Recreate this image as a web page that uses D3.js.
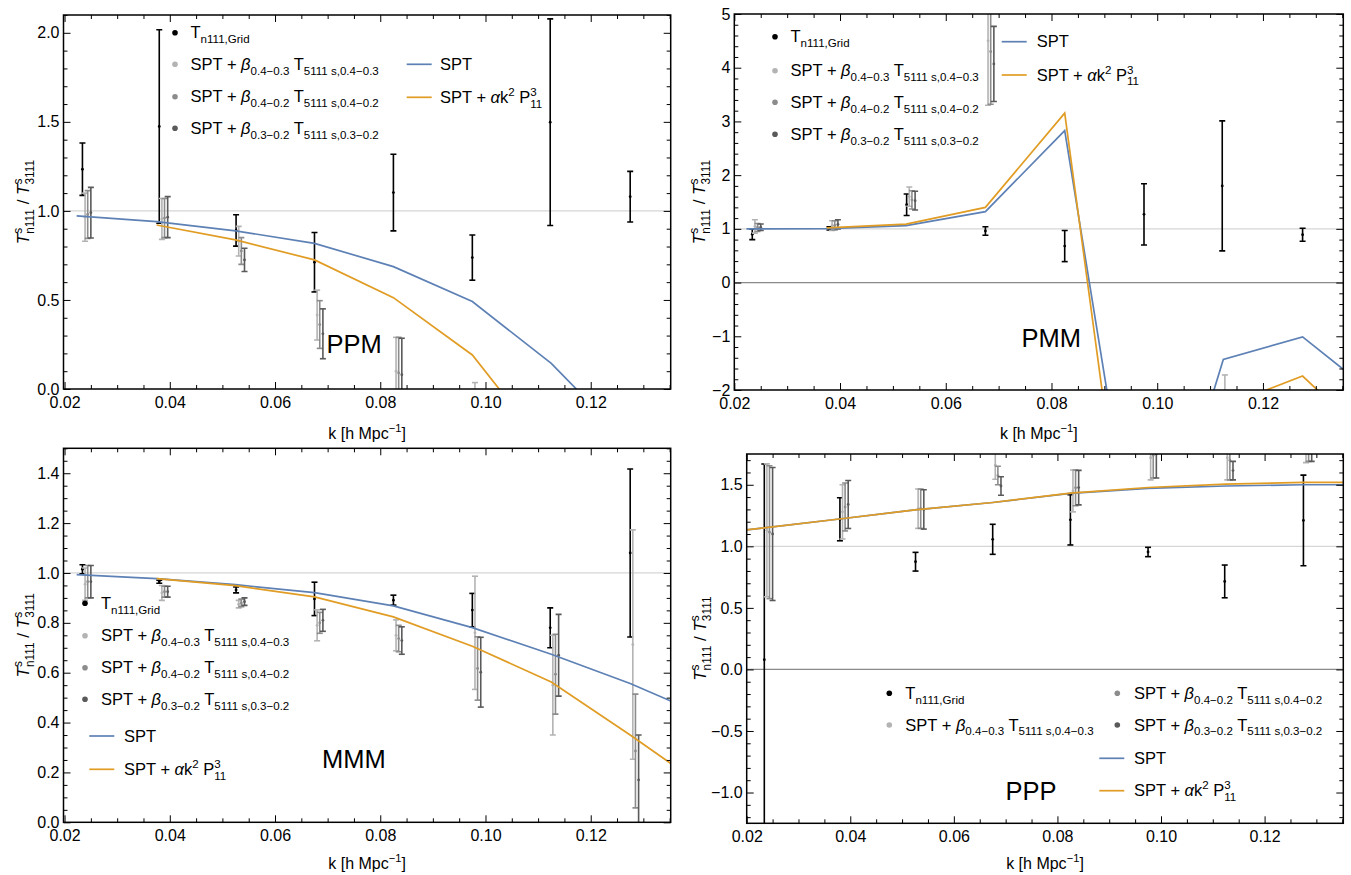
<!DOCTYPE html>
<html>
<head>
<meta charset="utf-8">
<script src="https://cdn.jsdelivr.net/npm/d3@7"></script>
<style>
body { margin: 0; background: #fff; }
svg { font-family: "Liberation Sans", Arial, sans-serif; }
text { white-space: pre; }
</style>
</head>
<body>
<svg id="chart" width="1351" height="875"></svg>
<script>
// k bins of the measured points, and the k where the theory curves have vertices
const kBins = [0.0234, 0.0380, 0.0526, 0.0675, 0.0825, 0.0975, 0.1123, 0.1275]
const kSpt = [0.0223, 0.0375, 0.0525, 0.0675, 0.0825, 0.0975, 0.1125, 0.1275, 0.1425]
const kAlpha = [0.0375, 0.0525, 0.0675, 0.0825, 0.0975, 0.1125, 0.1275, 0.1425]
const kPppLines = [0.0200, 0.0375, 0.0525, 0.0675, 0.0825, 0.0975, 0.1125, 0.1275, 0.1425]
// small k shifts of the three beta series so they do not sit on top of each other
const shiftB43 = 0.0005, shiftB42 = 0.0010, shiftB32 = 0.0016

// each point is [value, error]
const ppmGrid = [[1.234,0.147],[1.474,0.543],[0.890,0.088],[0.712,0.167],[1.103,0.215],[0.738,0.127],[1.498,0.580],[1.080,0.142]]
const ppmB43 = [[0.965,0.135],[0.955,0.115],[0.830,0.083],[0.415,0.140],[0.100,0.190],[-0.200,0.236],[-0.500,0.300],[-0.800,0.300]]
const ppmB42 = [[0.980,0.134],[0.960,0.110],[0.775,0.075],[0.362,0.134],[0.090,0.200],[-0.300,0.200],[-0.600,0.300],[-0.900,0.300]]
const ppmB32 = [[0.990,0.142],[0.965,0.115],[0.725,0.065],[0.310,0.140],[0.080,0.205],[-0.350,0.200],[-0.700,0.300],[-1.000,0.300]]
const ppmSpt = [0.972, 0.940, 0.888, 0.818, 0.687, 0.491, 0.144, -0.31, -0.80]
const ppmAlpha = [0.921, 0.837, 0.725, 0.513, 0.191, -0.37, -1.00, -1.60]

const pmmGrid = [[0.90,0.10],[1.01,0.03],[1.45,0.20],[0.96,0.08],[0.68,0.29],[1.27,0.57],[1.80,1.21],[0.89,0.12]]
const pmmB43 = [[1.045,0.125],[1.06,0.09],[1.60,0.18],[4.50,1.20],[6.5,1.0],[8.0,1.0],[-2.50,0.78],[-4.0,1.0]]
const pmmB42 = [[1.025,0.075],[1.065,0.085],[1.54,0.17],[4.30,0.98],[6.5,1.0],[8.0,1.0],[-3.00,0.50],[-4.0,1.0]]
const pmmB32 = [[1.030,0.060],[1.085,0.085],[1.525,0.175],[4.07,0.70],[6.5,1.0],[8.0,1.0],[-3.00,0.50],[-4.0,1.0]]
const pmmSpt = [1.00, 1.006, 1.06, 1.32, 2.83, -6.27, -1.43, -1.01, -2.19]
const pmmAlpha = [1.02, 1.087, 1.40, 3.155, -7.80, -2.31, -1.74, -3.13]

const mmmGrid = [[1.015,0.018],[0.965,0.006],[0.932,0.012],[0.896,0.067],[0.891,0.020],[0.851,0.067],[0.780,0.080],[1.080,0.337]]
const mmmB43 = [[0.955,0.065],[0.920,0.030],[0.875,0.015],[0.790,0.062],[0.750,0.062],[0.760,0.227],[0.550,0.200],[0.713,0.460]]
const mmmB42 = [[0.965,0.065],[0.925,0.022],[0.880,0.015],[0.800,0.042],[0.737,0.053],[0.617,0.127],[0.594,0.160],[0.286,0.228]]
const mmmB32 = [[0.965,0.065],[0.925,0.022],[0.885,0.015],[0.810,0.044],[0.729,0.055],[0.602,0.140],[0.670,0.164],[0.170,0.180]]
const mmmSpt = [0.993, 0.977, 0.953, 0.921, 0.868, 0.781, 0.674, 0.557, 0.42]
const mmmAlpha = [0.977, 0.949, 0.904, 0.824, 0.706, 0.563, 0.350, 0.128]

const pppGrid = [[0.079,1.590],[1.220,0.175],[0.875,0.076],[1.057,0.122],[1.215,0.204],[0.954,0.038],[0.715,0.133],[1.210,0.368]]
const pppB43 = [[1.130,0.540],[1.280,0.220],[1.306,0.160],[1.660,0.115],[1.450,0.170],[1.720,0.180],[1.720,0.180],[1.850,0.170]]
const pppB42 = [[1.115,0.540],[1.320,0.195],[1.306,0.160],[1.575,0.075],[1.475,0.145],[1.740,0.185],[1.700,0.160],[1.850,0.160]]
const pppB32 = [[1.100,0.540],[1.340,0.195],[1.300,0.160],[1.490,0.075],[1.477,0.140],[1.750,0.195],[1.615,0.075],[1.850,0.160]]
const pppSpt = [1.133, 1.220, 1.296, 1.356, 1.430, 1.470, 1.490, 1.500, 1.500]
const pppAlpha = [1.133, 1.220, 1.296, 1.356, 1.432, 1.478, 1.505, 1.519, 1.520]

const xTicks = [0.02, 0.04, 0.06, 0.08, 0.10, 0.12]

const cGrid = "#000000", cB43 = "#b3b3b3", cB42 = "#8c8c8c", cB32 = "#5a5a5a"
const cSpt = "#5e81b5", cAlpha = "#e19c24"

const svg = d3.select("#chart")

// lays out text pieces one after another: normal, italic, sub, sup, and stacked sub/sup
function rich(g, x, y, parts, fs) {
	let cx = x
	const small = fs * 0.7
	for (const [txt, kind] of parts) {
		if (kind === "subsup") {
			const a = g.append("text").attr("x", cx).attr("y", y - fs * 0.42).attr("font-size", small).text(txt[0])
			const b = g.append("text").attr("x", cx).attr("y", y + fs * 0.3).attr("font-size", small).text(txt[1])
			cx += Math.max(a.node().getComputedTextLength(), b.node().getComputedTextLength())
		} else {
			const t = g.append("text")
				.attr("x", cx)
				.attr("y", kind === "sub" ? y + fs * 0.3 : kind === "sup" ? y - fs * 0.42 : y)
				.attr("font-size", kind === "sub" || kind === "sup" ? small : fs)
				.attr("font-style", kind === "i" ? "italic" : null)
				.text(txt)
			cx += t.node().getComputedTextLength()
		}
	}
	return cx - x
}

const legGrid = [["T", "n"], ["n111,Grid", "sub"]]
const legBeta = a => [["SPT + ", "n"], ["β", "i"], [a, "sub"], [" T", "n"], ["5111 s," + a, "sub"]]
const legSpt = [["SPT", "n"]]
const legAlpha = [["SPT + ", "n"], ["α", "i"], ["k", "n"], ["2", "sup"], [" P", "n"], [["3", "11"], "subsup"]]
const yLabel = [["T", "i"], [["s", "n111"], "subsup"], [" / ", "n"], ["T", "i"], [["s", "3111"], "subsup"]]
const xLabel = [["k [h Mpc", "n"], ["−1", "sup"], ["]", "n"]]

let clipN = 0
function drawPanel(p) {
	const x = d3.scaleLinear().domain(p.xDom).range([p.l, p.r])
	const y = d3.scaleLinear().domain(p.yDom).range([p.b, p.t])
	const g = svg.append("g")
	const id = "clip" + (clipN++)
	g.append("clipPath").attr("id", id).append("rect")
		.attr("x", p.l).attr("y", p.t).attr("width", p.r - p.l).attr("height", p.b - p.t)

	const plot = g.append("g").attr("clip-path", `url(#${id})`)

	// reference lines
	plot.append("line").attr("x1", p.l).attr("x2", p.r).attr("y1", y(1)).attr("y2", y(1))
		.attr("stroke", "#d6d6d6").attr("stroke-width", 1.2)
	if (p.yDom[0] < 0)
		plot.append("line").attr("x1", p.l).attr("x2", p.r).attr("y1", y(0)).attr("y2", y(0))
			.attr("stroke", "#8a8a8a").attr("stroke-width", 1.2)

	// error bars
	const series = [[p.grid, 0, cGrid], [p.b43, shiftB43, cB43], [p.b42, shiftB42, cB42], [p.b32, shiftB32, cB32]]
	for (const [data, dk, col] of series) {
		const bars = plot.append("g").selectAll("g").data(data).join("g")
			.attr("stroke", col).attr("stroke-width", 1.6)
		const px = (d, i) => x(kBins[i] + dk)
		bars.append("line").attr("x1", px).attr("x2", px)
			.attr("y1", d => y(d[0] - d[1])).attr("y2", d => y(d[0] + d[1]))
		for (const s of [-1, 1])
			bars.append("line")
				.attr("x1", (d, i) => px(d, i) - 3).attr("x2", (d, i) => px(d, i) + 3)
				.attr("y1", d => y(d[0] + s * d[1])).attr("y2", d => y(d[0] + s * d[1]))
		bars.append("circle").attr("cx", px).attr("cy", d => y(d[0])).attr("r", 1.4)
			.attr("fill", col).attr("stroke", "none")
	}

	const line = d3.line().x(d => x(d[0])).y(d => y(d[1]))
	plot.append("path").datum(d3.zip(p.kSpt, p.spt)).attr("d", line)
		.attr("fill", "none").attr("stroke", cSpt).attr("stroke-width", 1.7)
	plot.append("path").datum(d3.zip(p.kAlpha, p.alpha)).attr("d", line)
		.attr("fill", "none").attr("stroke", cAlpha).attr("stroke-width", 1.7)

	// frame ticks, pointing inwards
	const fmtY = d3.format(p.yFmt)
	const yMinor = d3.range(Math.ceil(p.yDom[0] / p.yMin - 1e-6), Math.floor(p.yDom[1] / p.yMin + 1e-6) + 1)
		.map(v => +(v * p.yMin).toFixed(4)).filter(v => !p.yTicks.includes(v))
	const xMinor = d3.range(Math.ceil(p.xDom[0] / 0.005 - 1e-6), Math.floor(p.xDom[1] / 0.005 + 1e-6) + 1)
		.map(v => +(v * 0.005).toFixed(4)).filter(v => !xTicks.includes(v))

	const ax = (gen, tr, vals, size, fmt, pad) => {
		const a = g.append("g").attr("transform", tr)
			.call(gen.tickValues(vals).tickSize(-size).tickSizeOuter(0).tickPadding(pad).tickFormat(fmt))
		a.select(".domain").remove()
		a.selectAll("line").attr("stroke", "#000").attr("stroke-width", 1)
		a.selectAll("text").attr("font-size", 16).attr("fill", "#000").attr("font-family", null)
		a.attr("font-family", null)
		return a
	}
	ax(d3.axisBottom(x), `translate(0,${p.b})`, xTicks, 7, d3.format(".2f"), 7.5)
	ax(d3.axisBottom(x), `translate(0,${p.b})`, xMinor, 4, () => "", 0)
	ax(d3.axisTop(x), `translate(0,${p.t})`, xTicks, 7, () => "", 0)
	ax(d3.axisTop(x), `translate(0,${p.t})`, xMinor, 4, () => "", 0)
	ax(d3.axisLeft(y), `translate(${p.l},0)`, p.yTicks, 7, fmtY, 4)
	ax(d3.axisLeft(y), `translate(${p.l},0)`, yMinor, 4, () => "", 0)
	ax(d3.axisRight(y), `translate(${p.r},0)`, p.yTicks, 7, () => "", 0)
	ax(d3.axisRight(y), `translate(${p.r},0)`, yMinor, 4, () => "", 0)

	g.append("rect").attr("x", p.l).attr("y", p.t).attr("width", p.r - p.l).attr("height", p.b - p.t)
		.attr("fill", "none").attr("stroke", "#000").attr("stroke-width", 1.5)

	// axis titles
	const xl = g.append("g")
	const w = rich(xl, 0, p.xLabY, xLabel, 16)
	xl.attr("transform", `translate(${(p.l + p.r) / 2 - w / 2},0)`)
	const yl = g.append("g").attr("transform", `translate(${p.yLabX},${(p.t + p.b) / 2}) rotate(-90)`)
	const yi = yl.append("g")
	const wy = rich(yi, 0, 0, yLabel, 17)
	yi.attr("transform", `translate(${-wy / 2},0)`)

	g.append("text").attr("x", p.nameX).attr("y", p.nameY).attr("font-size", 25.5).text(p.name)

	// legend
	for (const it of p.legend) {
		if (it.dot) g.append("circle").attr("cx", it.mx).attr("cy", it.y).attr("r", 2.8).attr("fill", it.dot)
		else g.append("line").attr("x1", it.mx).attr("x2", it.mx + 25).attr("y1", it.y).attr("y2", it.y)
			.attr("stroke", it.line).attr("stroke-width", 1.7)
		rich(g, it.tx, it.y + 5.5, it.parts, 16.5)
	}
}

const dotItems = (mx, tx, ys) => [
	{ dot: cGrid, mx, tx, y: ys[0], parts: legGrid },
	{ dot: cB43, mx, tx, y: ys[1], parts: legBeta("0.4−0.3") },
	{ dot: cB42, mx, tx, y: ys[2], parts: legBeta("0.4−0.2") },
	{ dot: cB32, mx, tx, y: ys[3], parts: legBeta("0.3−0.2") }
]
const lineItems = (mx, tx, ys) => [
	{ line: cSpt, mx, tx, y: ys[0], parts: legSpt },
	{ line: cAlpha, mx, tx, y: ys[1], parts: legAlpha }
]

drawPanel({
	name: "PPM", nameX: 326.5, nameY: 353,
	l: 63.5, r: 670.7, t: 15, b: 389, xDom: [0.0198, 0.1352], yDom: [0, 2.1],
	yTicks: [0, 0.5, 1, 1.5, 2], yMin: 0.1, yFmt: ".1f", xLabY: 439, yLabX: 29,
	grid: ppmGrid, b43: ppmB43, b42: ppmB42, b32: ppmB32,
	kSpt: kSpt, spt: ppmSpt, kAlpha: kAlpha, alpha: ppmAlpha,
	legend: dotItems(175, 190.5, [32.7, 64.3, 96.7, 128.3]).concat(lineItems(406.7, 440, [64.3, 97.3]))
})
drawPanel({
	name: "PMM", nameX: 1021.5, nameY: 346.7,
	l: 734.3, r: 1343.3, t: 14, b: 390, xDom: [0.02, 0.1352], yDom: [-2, 5],
	yTicks: [-2, -1, 0, 1, 2, 3, 4, 5], yMin: 0.2, yFmt: "d", xLabY: 439, yLabX: 705,
	grid: pmmGrid, b43: pmmB43, b42: pmmB42, b32: pmmB32,
	kSpt: kSpt, spt: pmmSpt, kAlpha: kAlpha, alpha: pmmAlpha,
	legend: dotItems(775, 790.5, [36.7, 70.7, 102.3, 134.3]).concat(lineItems(1001.7, 1036.7, [41.7, 75]))
})
drawPanel({
	name: "MMM", nameX: 322, nameY: 768,
	l: 63.5, r: 670.7, t: 448.3, b: 822.3, xDom: [0.0198, 0.1352], yDom: [0, 1.5],
	yTicks: [0, 0.2, 0.4, 0.6, 0.8, 1, 1.2, 1.4], yMin: 0.05, yFmt: ".1f", xLabY: 869, yLabX: 29,
	grid: mmmGrid, b43: mmmB43, b42: mmmB42, b32: mmmB32,
	kSpt: kSpt, spt: mmmSpt, kAlpha: kAlpha, alpha: mmmAlpha,
	legend: dotItems(85, 101, [603.3, 635.7, 667.7, 699.3]).concat(lineItems(89.3, 124, [736, 769.3]))
})
drawPanel({
	name: "PPP", nameX: 1005.5, nameY: 800,
	l: 746.7, r: 1343.3, t: 454, b: 823.3, xDom: [0.02, 0.1352], yDom: [-1.25, 1.75],
	yTicks: [-1, -0.5, 0, 0.5, 1, 1.5], yMin: 0.1, yFmt: ".1f", xLabY: 869, yLabX: 706,
	grid: pppGrid, b43: pppB43, b42: pppB42, b32: pppB32,
	kSpt: kPppLines, spt: pppSpt, kAlpha: kPppLines, alpha: pppAlpha,
	legend: [
		{ dot: cGrid, mx: 889.3, tx: 905.3, y: 693.3, parts: legGrid },
		{ dot: cB43, mx: 889.3, tx: 905.3, y: 725, parts: legBeta("0.4−0.3") },
		{ dot: cB42, mx: 1117.3, tx: 1134, y: 693.3, parts: legBeta("0.4−0.2") },
		{ dot: cB32, mx: 1117.3, tx: 1134, y: 725, parts: legBeta("0.3−0.2") }
	].concat(lineItems(1099.3, 1134, [758.3, 790.7]))
})
</script>
</body>
</html>
